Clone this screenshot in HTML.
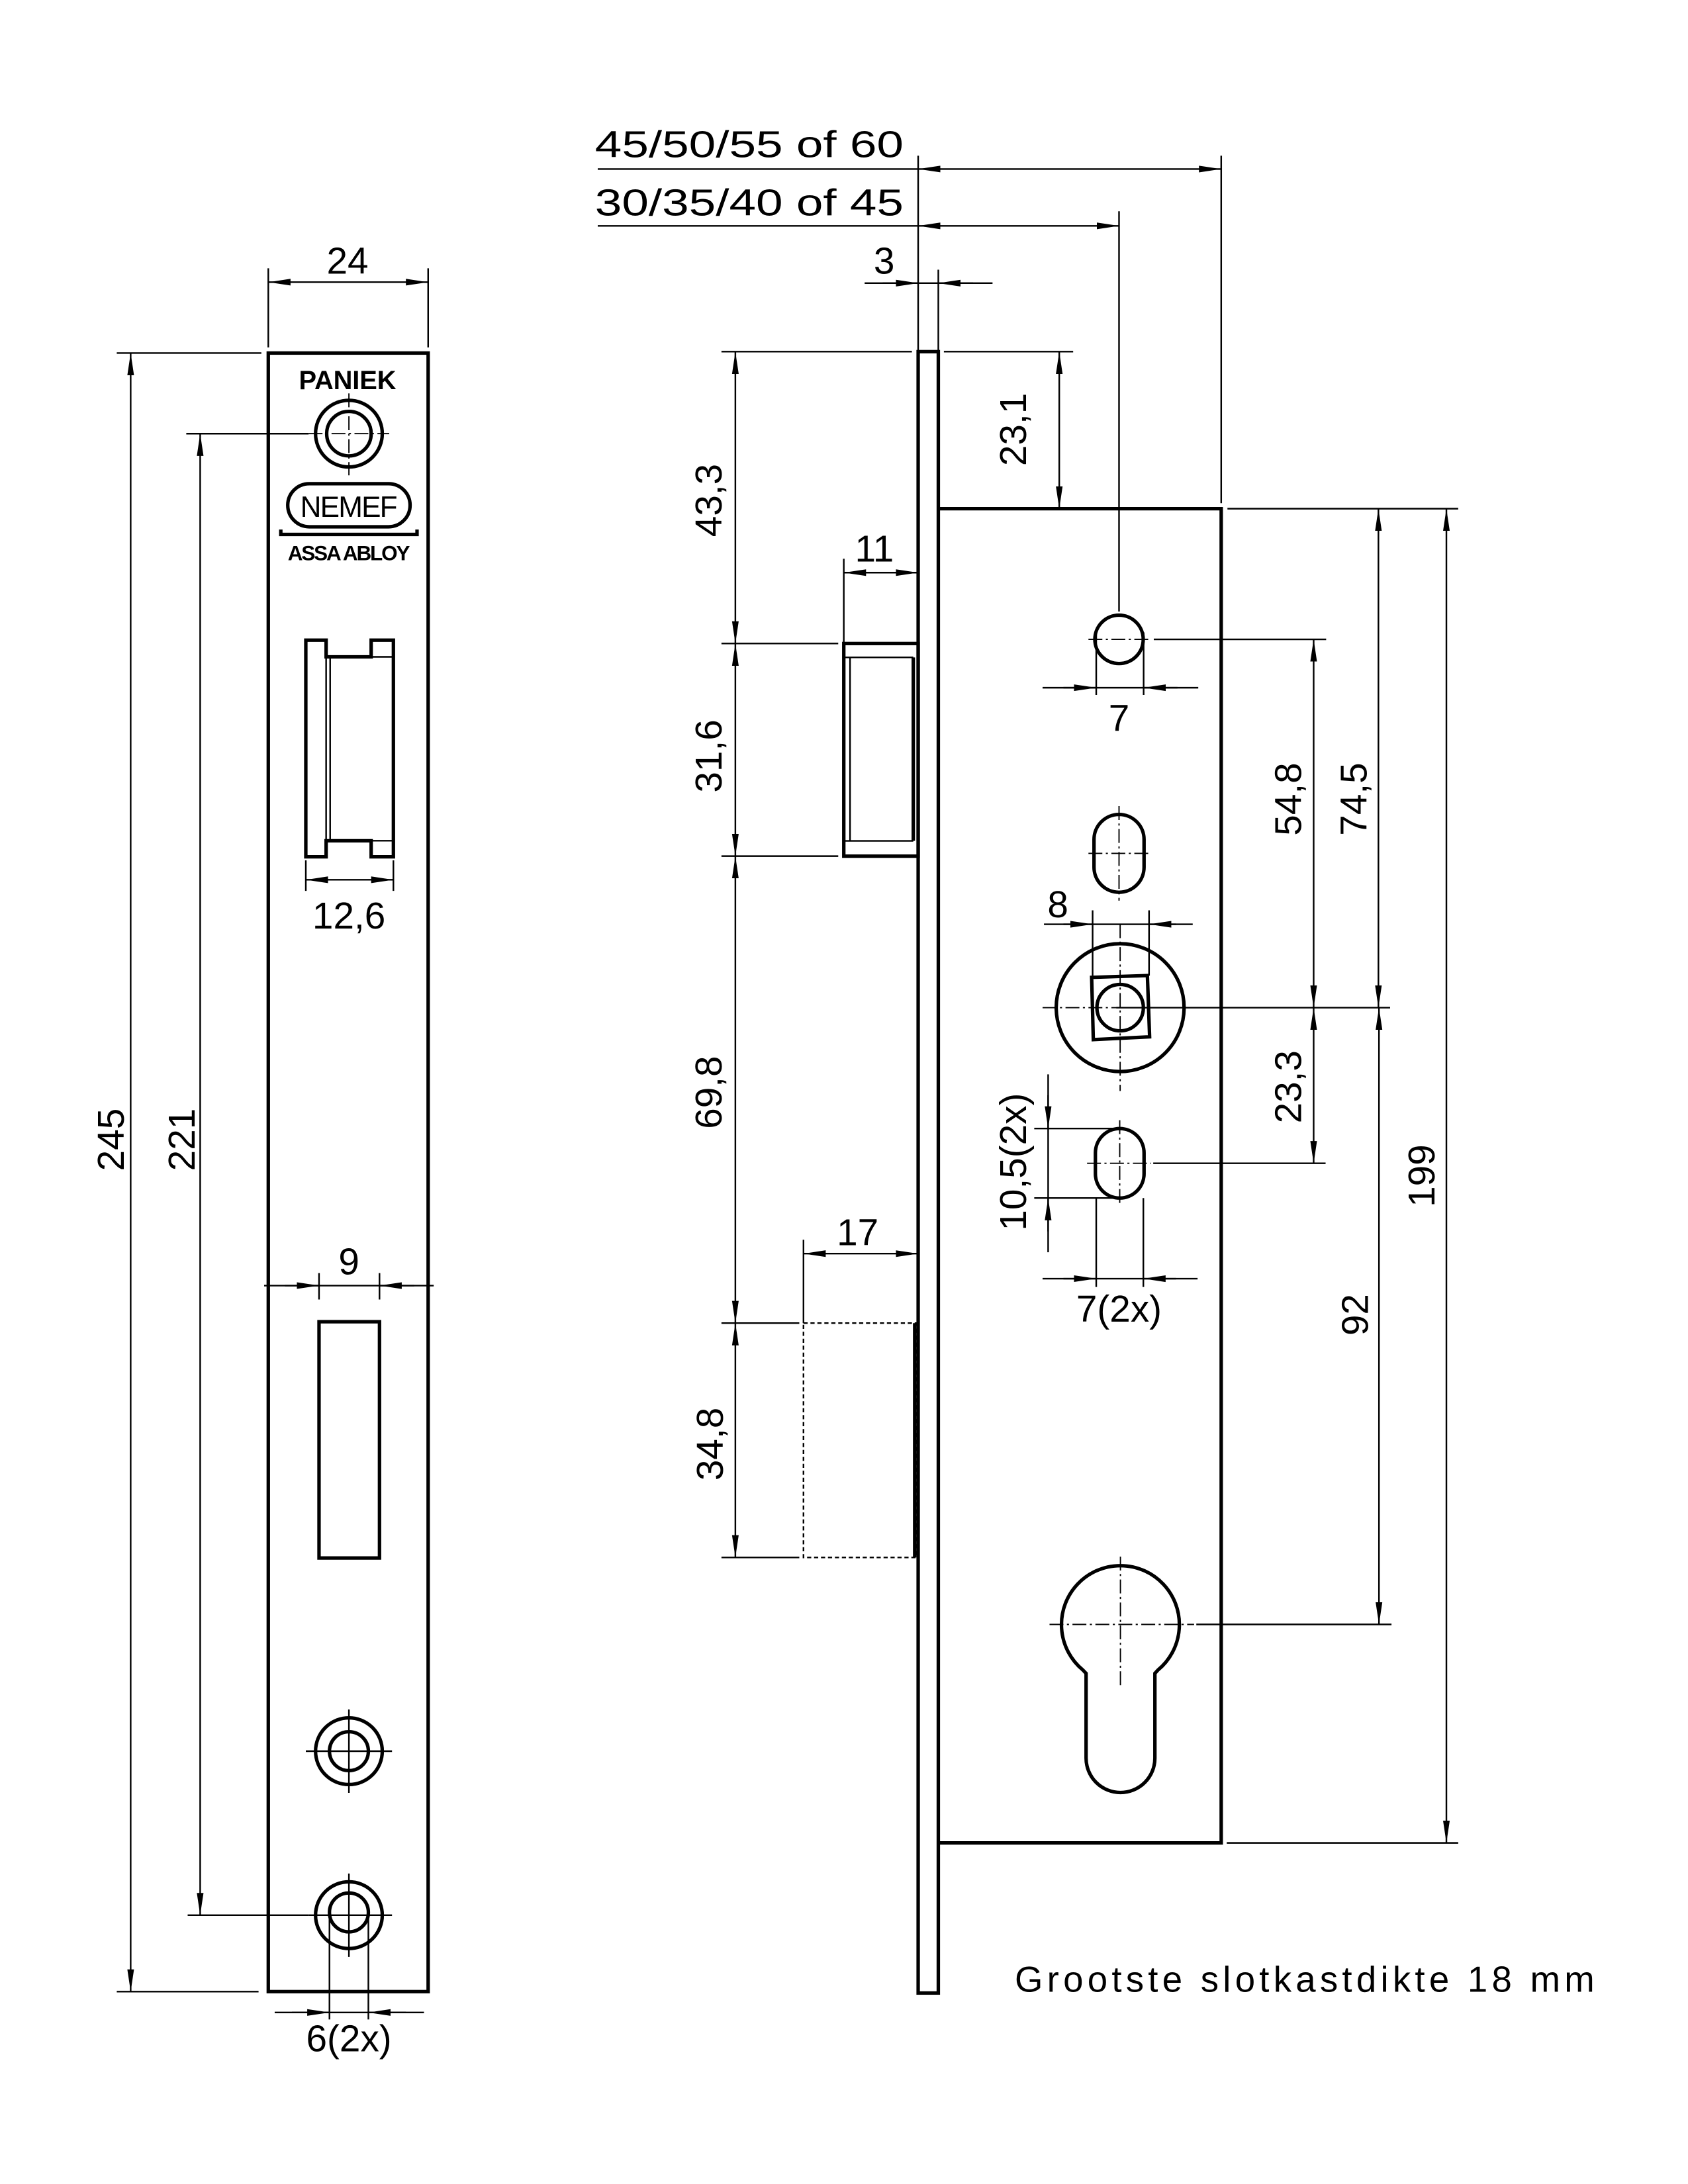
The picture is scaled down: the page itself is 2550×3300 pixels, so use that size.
<!DOCTYPE html>
<html><head><meta charset="utf-8"><style>
html,body{margin:0;padding:0;background:#fff;}
svg{display:block;}
text{font-family:"Liberation Sans",sans-serif;fill:#000;}
.t{stroke:#000;stroke-width:1.15;fill:none;}
.k{stroke:#000;stroke-width:2.5;fill:none;}
.c{stroke:#000;stroke-width:0.9;fill:none;stroke-dasharray:10 2.5 1.5 2.5;}
.d{font-size:27px;}
</style></head><body>
<svg width="2550" height="3300" viewBox="0 0 1214.3 1571.4" xmlns="http://www.w3.org/2000/svg">
<defs>
<marker id="a" viewBox="0 0 16 6" markerWidth="16" markerHeight="6" refX="16" refY="3" orient="auto-start-reverse" markerUnits="userSpaceOnUse">
<path d="M0,0.6 L16,3 L0,5.4 z" fill="#000"/></marker>
</defs>

<!-- ===== LEFT VIEW ===== -->
<rect x="193" y="254" width="115" height="1179" class="k"/>
<!-- 24 -->
<line x1="193" y1="193" x2="193" y2="250" class="t"/>
<line x1="308" y1="193" x2="308" y2="250" class="t"/>
<line x1="193" y1="203" x2="308" y2="203" class="t" marker-start="url(#a)" marker-end="url(#a)"/>
<text x="250" y="197" class="d" text-anchor="middle">24</text>
<!-- 245 -->
<line x1="84" y1="254" x2="188" y2="254" class="t"/>
<line x1="84" y1="1433" x2="186" y2="1433" class="t"/>
<line x1="94" y1="254" x2="94" y2="1433" class="t" marker-start="url(#a)" marker-end="url(#a)"/>
<text transform="translate(89,820) rotate(-90)" class="d" text-anchor="middle">245</text>
<!-- 221 -->
<line x1="134" y1="312" x2="222" y2="312" class="t"/>
<line x1="135" y1="1378" x2="222" y2="1378" class="t"/>
<line x1="144" y1="312" x2="144" y2="1378" class="t" marker-start="url(#a)" marker-end="url(#a)"/>
<text transform="translate(140,820) rotate(-90)" class="d" text-anchor="middle">221</text>

<text x="250" y="280" font-size="19" text-anchor="middle" font-weight="bold" textLength="70">PANIEK</text>
<circle cx="251" cy="312" r="24" class="k" stroke-width="2"/>
<circle cx="251" cy="312" r="16" class="k" stroke-width="2"/>
<line x1="222" y1="312" x2="280" y2="312" class="c"/>
<line x1="251" y1="283" x2="251" y2="342" class="c"/>
<rect x="207" y="348" width="88" height="31" rx="15.5" class="k" stroke-width="1.8"/>
<text x="251" y="372" font-size="21" text-anchor="middle" textLength="70">NEMEF</text>
<path d="M202 381 V384.5 H300 V381" class="k" stroke-width="1.6"/>
<text x="251" y="403" font-size="15" font-weight="bold" text-anchor="middle" textLength="88">ASSA ABLOY</text>

<!-- latch slot front -->
<path d="M220 460.6 H234.6 V472.6 H267 V460.6 H283 V616.5 H267 V604.9 H234.6 V616.5 H220 Z" class="k" stroke-width="2"/>
<line x1="237.5" y1="472.6" x2="237.5" y2="604.9" class="t" stroke-width="1.6"/>
<line x1="234.6" y1="460.6" x2="234.6" y2="616.5" class="t" stroke-width="1.6"/>
<line x1="267" y1="472.6" x2="283" y2="472.6" class="t" stroke-width="1.6"/>
<line x1="267" y1="604.9" x2="283" y2="604.9" class="t" stroke-width="1.6"/>
<!-- 12,6 -->
<line x1="220" y1="619" x2="220" y2="641" class="t"/>
<line x1="283" y1="619" x2="283" y2="641" class="t"/>
<line x1="220" y1="633" x2="283" y2="633" class="t" marker-start="url(#a)" marker-end="url(#a)"/>
<text x="251" y="668" class="d" text-anchor="middle">12,6</text>
<!-- 9 -->
<line x1="229.5" y1="916" x2="229.5" y2="935" class="t"/>
<line x1="273" y1="916" x2="273" y2="935" class="t"/>
<line x1="190" y1="925" x2="312" y2="925" class="t"/>
<line x1="205" y1="925" x2="229.5" y2="925" class="t" marker-end="url(#a)"/>
<line x1="298" y1="925" x2="273" y2="925" class="t" marker-end="url(#a)"/>
<text x="251" y="917" class="d" text-anchor="middle">9</text>
<rect x="229.5" y="951" width="43.5" height="170" class="k" stroke-width="2.2"/>
<!-- holes -->
<circle cx="251" cy="1260" r="24" class="k" stroke-width="2"/>
<circle cx="251" cy="1260" r="14" class="k" stroke-width="2"/>
<line x1="220" y1="1260" x2="282" y2="1260" class="t" stroke-width="0.9"/>
<line x1="251" y1="1230" x2="251" y2="1290" class="t" stroke-width="0.9"/>
<circle cx="251" cy="1378" r="24" class="k" stroke-width="2"/>
<circle cx="251" cy="1376" r="14" class="k" stroke-width="2"/>
<line x1="222" y1="1378" x2="282" y2="1378" class="t" stroke-width="0.9"/>
<line x1="251" y1="1348" x2="251" y2="1408" class="t" stroke-width="0.9"/>
<!-- 6(2x) -->
<line x1="237" y1="1378" x2="237" y2="1453" class="t"/>
<line x1="265" y1="1378" x2="265" y2="1453" class="t"/>
<line x1="197.6" y1="1448" x2="305" y2="1448" class="t"/>
<line x1="210" y1="1448" x2="237" y2="1448" class="t" marker-end="url(#a)"/>
<line x1="292" y1="1448" x2="265" y2="1448" class="t" marker-end="url(#a)"/>
<text x="251" y="1476" class="d" text-anchor="middle">6(2x)</text>

<!-- ===== RIGHT VIEW ===== -->
<rect x="660.5" y="253" width="14.5" height="1181" class="k"/>
<path d="M675 366 H878.5 V1326 H675" class="k"/>

<!-- top text dims -->
<text x="428" y="113" class="d" textLength="222" lengthAdjust="spacingAndGlyphs">45/50/55 of 60</text>
<line x1="430" y1="121.6" x2="660" y2="121.6" class="t"/>
<line x1="660.5" y1="112" x2="660.5" y2="253" class="t"/>
<line x1="878.5" y1="112" x2="878.5" y2="362" class="t"/>
<line x1="660.5" y1="121.6" x2="878.5" y2="121.6" class="t" marker-start="url(#a)" marker-end="url(#a)"/>
<text x="428" y="155" class="d" textLength="222" lengthAdjust="spacingAndGlyphs">30/35/40 of 45</text>
<line x1="430" y1="162.5" x2="660" y2="162.5" class="t"/>
<line x1="805" y1="152" x2="805" y2="440" class="t"/>
<line x1="660.5" y1="162.5" x2="805" y2="162.5" class="t" marker-start="url(#a)" marker-end="url(#a)"/>
<!-- 3 -->
<text x="636" y="197" class="d" text-anchor="middle">3</text>
<line x1="675" y1="194" x2="675" y2="253" class="t"/>
<line x1="622" y1="203.7" x2="714" y2="203.7" class="t"/>
<line x1="635" y1="203.7" x2="660.5" y2="203.7" class="t" marker-end="url(#a)"/>
<line x1="700" y1="203.7" x2="675" y2="203.7" class="t" marker-end="url(#a)"/>
<!-- 23,1 -->
<line x1="679" y1="253" x2="772" y2="253" class="t"/>
<line x1="762" y1="253" x2="762" y2="366" class="t" marker-start="url(#a)" marker-end="url(#a)"/>
<text transform="translate(738,309) rotate(-90)" class="d" text-anchor="middle">23,1</text>
<!-- left vertical chain -->
<line x1="519" y1="253" x2="656" y2="253" class="t"/>
<line x1="519" y1="463" x2="603" y2="463" class="t"/>
<line x1="519" y1="616" x2="603" y2="616" class="t"/>
<line x1="519" y1="952" x2="575" y2="952" class="t"/>
<line x1="519" y1="1120.6" x2="575" y2="1120.6" class="t"/>
<line x1="529" y1="253" x2="529" y2="463" class="t" marker-start="url(#a)" marker-end="url(#a)"/>
<line x1="529" y1="463" x2="529" y2="616" class="t" marker-start="url(#a)" marker-end="url(#a)"/>
<line x1="529" y1="616" x2="529" y2="952" class="t" marker-start="url(#a)" marker-end="url(#a)"/>
<line x1="529" y1="952" x2="529" y2="1120.6" class="t" marker-start="url(#a)" marker-end="url(#a)"/>
<text transform="translate(519,360) rotate(-90)" class="d" text-anchor="middle">43,3</text>
<text transform="translate(519,544) rotate(-90)" class="d" text-anchor="middle">31,6</text>
<text transform="translate(519,786) rotate(-90)" class="d" text-anchor="middle">69,8</text>
<text transform="translate(520,1039) rotate(-90)" class="d" text-anchor="middle">34,8</text>
<!-- latch side -->
<rect x="607" y="463" width="53.5" height="153" class="k" stroke-width="2"/>
<line x1="611.5" y1="473" x2="611.5" y2="605" class="t" stroke-width="1.6"/>
<line x1="607" y1="473" x2="657" y2="473" class="t" stroke-width="1.6"/>
<line x1="607" y1="605" x2="657" y2="605" class="t" stroke-width="1.6"/>
<line x1="657" y1="473" x2="657" y2="605" class="k" stroke-width="2.2"/>
<!-- 11 -->
<line x1="607" y1="402" x2="607" y2="463" class="t"/>
<line x1="607" y1="412" x2="660.5" y2="412" class="t" marker-start="url(#a)" marker-end="url(#a)"/>
<text x="629" y="404" class="d" text-anchor="middle">11</text>
<!-- deadbolt -->
<rect x="578" y="952" width="81" height="168.6" class="t" stroke-dasharray="3 2"/>
<line x1="658" y1="952" x2="658" y2="1120.6" class="k" stroke-width="2.6"/>
<!-- 17 -->
<line x1="578" y1="892" x2="578" y2="952" class="t"/>
<line x1="578" y1="902" x2="660.5" y2="902" class="t" marker-start="url(#a)" marker-end="url(#a)"/>
<text x="617" y="896" class="d" text-anchor="middle">17</text>

<!-- hole 1 -->
<circle cx="805" cy="460" r="17.4" class="k" stroke-width="2"/>
<line x1="783" y1="460" x2="827" y2="460" class="c"/>
<line x1="830" y1="460" x2="954" y2="460" class="t"/>
<line x1="788.6" y1="455" x2="788.6" y2="500" class="t"/>
<line x1="822.7" y1="455" x2="822.7" y2="500" class="t"/>
<line x1="750" y1="494.8" x2="862" y2="494.8" class="t"/>
<line x1="765" y1="494.8" x2="788.6" y2="494.8" class="t" marker-end="url(#a)"/>
<line x1="847" y1="494.8" x2="822.7" y2="494.8" class="t" marker-end="url(#a)"/>
<text x="805" y="526" class="d" text-anchor="middle">7</text>
<!-- slot 2 -->
<rect x="787" y="586" width="36" height="56" rx="18" class="k" stroke-width="2"/>
<line x1="783" y1="614" x2="827" y2="614" class="c"/>
<line x1="805" y1="580" x2="805" y2="648" class="c"/>
<!-- follower -->
<circle cx="805.8" cy="725" r="46" class="k" stroke-width="2"/>
<path d="M785.3 703.2 L825.4 701.9 L827 746 L786.5 748 Z" class="k" stroke-width="2"/>
<circle cx="805.8" cy="725" r="16.7" class="k" stroke-width="2"/>
<line x1="750" y1="725" x2="858" y2="725" class="c"/>
<line x1="805.8" y1="665" x2="805.8" y2="785" class="c"/>
<line x1="803" y1="725" x2="1000" y2="725" class="t"/>
<line x1="786" y1="655" x2="786" y2="702" class="t"/>
<line x1="826.6" y1="655" x2="826.6" y2="702" class="t"/>
<line x1="751" y1="665" x2="858" y2="665" class="t"/>
<line x1="765" y1="665" x2="786" y2="665" class="t" marker-end="url(#a)"/>
<line x1="846" y1="665" x2="826.6" y2="665" class="t" marker-end="url(#a)"/>
<text x="761" y="660" class="d" text-anchor="middle">8</text>
<!-- right dims -->
<line x1="883" y1="366" x2="1049" y2="366" class="t"/>
<line x1="882.5" y1="1326" x2="1049" y2="1326" class="t"/>
<line x1="945" y1="460" x2="945" y2="725" class="t" marker-start="url(#a)" marker-end="url(#a)"/>
<text transform="translate(936,575) rotate(-90)" class="d" text-anchor="middle">54,8</text>
<line x1="991.6" y1="366" x2="991.6" y2="725" class="t" marker-start="url(#a)" marker-end="url(#a)"/>
<text transform="translate(983,575) rotate(-90)" class="d" text-anchor="middle">74,5</text>
<line x1="1040.5" y1="366" x2="1040.5" y2="1326" class="t" marker-start="url(#a)" marker-end="url(#a)"/>
<text transform="translate(1032,846) rotate(-90)" class="d" text-anchor="middle">199</text>
<line x1="945" y1="725" x2="945" y2="837" class="t" marker-start="url(#a)" marker-end="url(#a)"/>
<text transform="translate(936,782) rotate(-90)" class="d" text-anchor="middle">23,3</text>
<line x1="992" y1="725" x2="992" y2="1168.8" class="t" marker-start="url(#a)" marker-end="url(#a)"/>
<text transform="translate(984,946) rotate(-90)" class="d" text-anchor="middle">92</text>
<!-- slot 3 -->
<rect x="788" y="812" width="35" height="50" rx="17.5" class="k" stroke-width="2"/>
<line x1="782" y1="837" x2="828" y2="837" class="c"/>
<line x1="805.5" y1="806" x2="805.5" y2="868" class="c"/>
<line x1="829.6" y1="837" x2="953.6" y2="837" class="t"/>
<!-- 10,5(2x) -->
<line x1="744" y1="812" x2="806" y2="812" class="t"/>
<line x1="744" y1="862" x2="806" y2="862" class="t"/>
<line x1="754" y1="773" x2="754" y2="901" class="t"/>
<line x1="754" y1="788" x2="754" y2="812" class="t" marker-end="url(#a)"/>
<line x1="754" y1="886" x2="754" y2="862" class="t" marker-end="url(#a)"/>
<text transform="translate(738,836) rotate(-90)" class="d" text-anchor="middle">10,5(2x)</text>
<!-- 7(2x) -->
<line x1="788.6" y1="862" x2="788.6" y2="926" class="t"/>
<line x1="822.5" y1="862" x2="822.5" y2="926" class="t"/>
<line x1="750" y1="920" x2="861.5" y2="920" class="t"/>
<line x1="765" y1="920" x2="788.6" y2="920" class="t" marker-end="url(#a)"/>
<line x1="846" y1="920" x2="822.5" y2="920" class="t" marker-end="url(#a)"/>
<text x="805" y="951" class="d" text-anchor="middle">7(2x)</text>
<!-- cylinder -->
<path d="M781.3 1265 L781.3 1204 L779 1201.6 A42.4 42.4 0 1 1 833 1201.6 L830.8 1204 L830.8 1265 A24.75 24.75 0 0 1 781.3 1265 Z" class="k" stroke-width="2"/>
<line x1="755" y1="1168.8" x2="859" y2="1168.8" class="c"/>
<line x1="806" y1="1120" x2="806" y2="1215" class="c"/>
<line x1="860.6" y1="1168.8" x2="1001" y2="1168.8" class="t"/>

<text x="730" y="1433" font-size="26" textLength="417" lengthAdjust="spacing">Grootste slotkastdikte 18 mm</text>
</svg>
</body></html>
